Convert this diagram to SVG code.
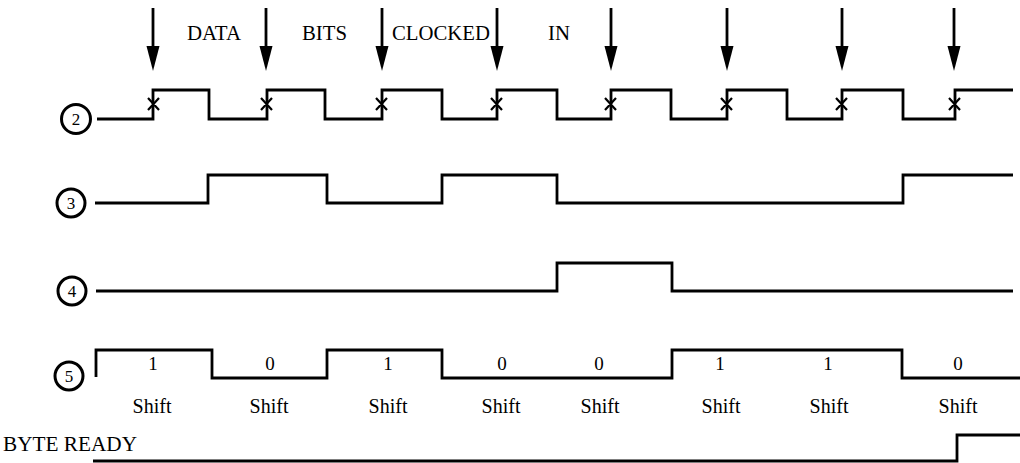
<svg xmlns="http://www.w3.org/2000/svg" width="1020" height="463" viewBox="0 0 1020 463">
<style>
.w{fill:none;stroke:#000;stroke-width:2.8;stroke-linejoin:miter}
.c{fill:#fff;stroke:#000;stroke-width:3}
.n{font-family:"Liberation Serif",serif;font-size:17px;text-anchor:middle;fill:#000}
.t{font-family:"Liberation Serif",serif;font-size:20px;fill:#000}
.m{font-family:"Liberation Serif",serif;font-size:19px;text-anchor:middle;fill:#000}
.s{font-family:"Liberation Serif",serif;font-size:20px;text-anchor:middle;fill:#000}
.a{stroke:#000;stroke-width:2.8;fill:none}
.x{stroke:#000;stroke-width:2.2;fill:none}
</style>
<g id="arrows">
<line class="a" x1="153" y1="8" x2="153" y2="48"/><polygon points="146.5,46 159.5,46 153,71"/>
<line class="a" x1="266" y1="8" x2="266" y2="48"/><polygon points="259.5,46 272.5,46 266,71"/>
<line class="a" x1="382" y1="8" x2="382" y2="48"/><polygon points="375.5,46 388.5,46 382,71"/>
<line class="a" x1="497" y1="8" x2="497" y2="48"/><polygon points="490.5,46 503.5,46 497,71"/>
<line class="a" x1="611" y1="8" x2="611" y2="48"/><polygon points="604.5,46 617.5,46 611,71"/>
<line class="a" x1="727" y1="8" x2="727" y2="48"/><polygon points="720.5,46 733.5,46 727,71"/>
<line class="a" x1="842" y1="8" x2="842" y2="48"/><polygon points="835.5,46 848.5,46 842,71"/>
<line class="a" x1="954" y1="8" x2="954" y2="48"/><polygon points="947.5,46 960.5,46 954,71"/>
<text class="t" x="187" y="40" textLength="54" lengthAdjust="spacingAndGlyphs">DATA</text>
<text class="t" x="302" y="40" textLength="45" lengthAdjust="spacingAndGlyphs">BITS</text>
<text class="t" x="392" y="40" textLength="98" lengthAdjust="spacingAndGlyphs">CLOCKED</text>
<text class="t" x="548" y="40" textLength="22" lengthAdjust="spacingAndGlyphs">IN</text>
</g>
<g id="signal-2">
<circle class="c" cx="76" cy="119" r="14.5"/>
<text class="n" x="76" y="125">2</text>
<path class="w" d="M97,119 H153 V90 H209 V119 H267 V90 H325 V119 H382 V90 H442 V119 H497 V90 H557 V119 H611 V90 H671 V119 H727 V90 H787 V119 H842 V90 H903 V119 H955 V90 H1013"/>
<path class="x" d="M148,98 L159,110 M148,110 L159,98 M261,98 L272,110 M261,110 L272,98 M376,98 L387,110 M376,110 L387,98 M491,98 L502,110 M491,110 L502,98 M605,98 L616,110 M605,110 L616,98 M721,98 L732,110 M721,110 L732,98 M836,98 L847,110 M836,110 L847,98 M949,98 L960,110 M949,110 L960,98"/>
</g>
<g id="signal-3">
<circle class="c" cx="71" cy="203" r="14"/>
<text class="n" x="71" y="209">3</text>
<path class="w" d="M95,203 H208 V175 H327 V203 H442 V175 H557 V203 H903 V175 H1013"/>
</g>
<g id="signal-4">
<circle class="c" cx="72" cy="291" r="14"/>
<text class="n" x="72" y="297">4</text>
<path class="w" d="M96,291 H557 V263 H672 V291 H1013"/>
</g>
<g id="signal-5">
<circle class="c" cx="69" cy="376" r="14"/>
<text class="n" x="69" y="382">5</text>
<path class="w" d="M96,377 V350 H212 V378 H327 V350 H442 V378 H672 V350 H902 V378 H1020"/>
<text class="m" x="153" y="370">1</text>
<text class="m" x="270" y="370">0</text>
<text class="m" x="388" y="370">1</text>
<text class="m" x="502" y="370">0</text>
<text class="m" x="599" y="370">0</text>
<text class="m" x="720" y="370">1</text>
<text class="m" x="828" y="370">1</text>
<text class="m" x="958" y="370">0</text>
<text class="s" x="152" y="413">Shift</text>
<text class="s" x="269" y="413">Shift</text>
<text class="s" x="388" y="413">Shift</text>
<text class="s" x="501" y="413">Shift</text>
<text class="s" x="600" y="413">Shift</text>
<text class="s" x="721" y="413">Shift</text>
<text class="s" x="829" y="413">Shift</text>
<text class="s" x="958" y="413">Shift</text>
</g>
<g id="byte-ready">
<text class="t" x="3" y="451" textLength="134" lengthAdjust="spacingAndGlyphs">BYTE READY</text>
<path class="w" d="M93,461 H957 V435 H1020"/>
</g>
</svg>
